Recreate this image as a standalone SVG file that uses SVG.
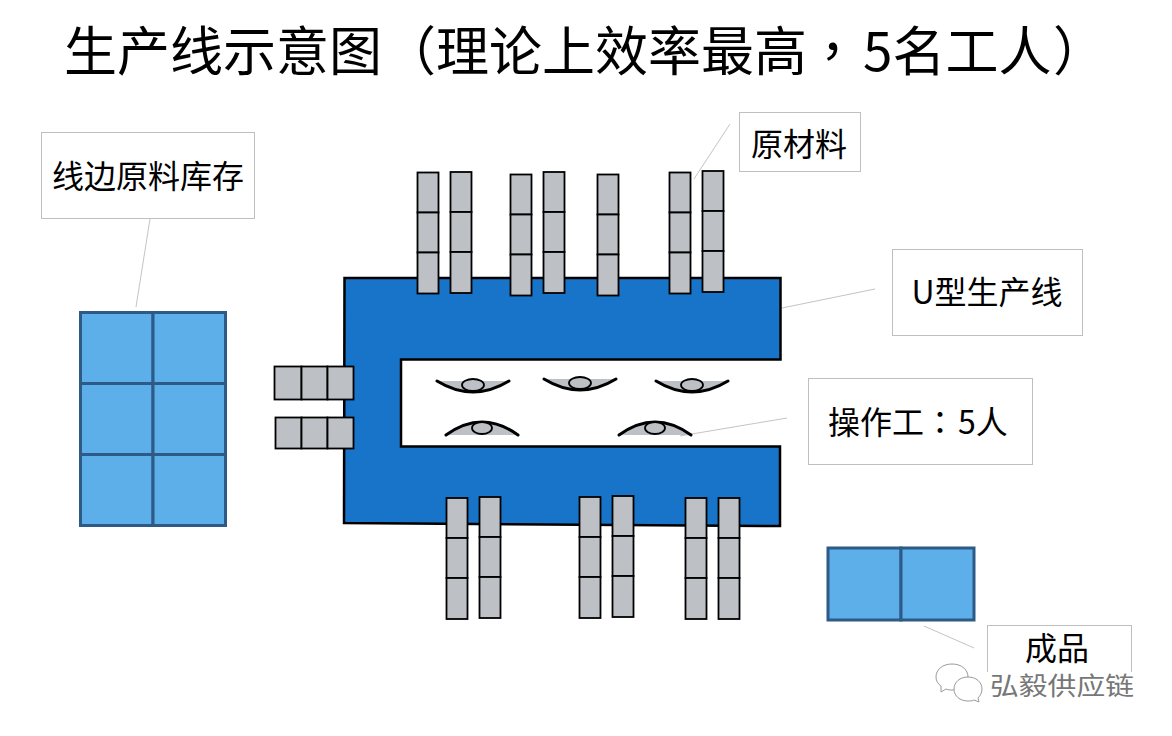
<svg xmlns="http://www.w3.org/2000/svg" width="1172" height="736" viewBox="0 0 1172 736">
<style>
text{font-family:"Noto Sans CJK SC","Noto Sans",sans-serif;fill:#000}
.p{font-family:"Noto Sans CJK TC","Noto Sans",sans-serif}
.t{font-size:53px}
.l{font-size:32px;text-anchor:middle}
.box{fill:#fff;stroke:#bfbfbf;stroke-width:1}
.lead{fill:none;stroke:#c4c4c4;stroke-width:1}
.m{fill:#bdc1c5;stroke:#000;stroke-width:1.8}
.s{fill:#5cafe8;stroke:#2d5a87;stroke-width:3}
.arc{fill:none;stroke:#000;stroke-width:3;stroke-linecap:round}
.seat{fill:#bdc1c5;stroke:none}
.head{fill:#bdc1c5;stroke:#000;stroke-width:1.8}
</style>
<defs>
<g id="col"><rect class="m" x="0" y="0" width="21" height="40"/><rect class="m" x="0" y="40" width="21" height="40"/><rect class="m" x="0" y="80" width="21" height="41"/></g>
<g id="wd"><path class="seat" d="M-36 0H36Q18 11 0 11Q-18 11-36 0Z"/><path class="arc" d="M-36 0Q-18 11 0 11Q18 11 36 0"/><ellipse class="head" cx="0" cy="4" rx="11" ry="6"/></g>
<g id="wu"><path class="seat" d="M-36 10H36Q18-3 0-3Q-18-3-36 10Z"/><path class="arc" d="M-36 10Q-18-3 0-3Q18-3 36 10"/><ellipse class="head" cx="0" cy="3" rx="10" ry="6"/></g>
</defs>
<text id="title" class="t" y="71"><tspan x="64">生产线示意图</tspan><tspan class="p" x="383">（</tspan><tspan x="436">理论上效率最高</tspan><tspan class="p" x="806">，</tspan><tspan x="863">5名工人</tspan><tspan class="p" x="1053">）</tspan></text>
<g id="line"><path d="M344.500 278H780.500V359.500H401V446.500H780V526L344 523Z" fill="#1874c8" stroke="#000" stroke-width="2.500"/></g>
<g id="connectors">
<path class="lead" d="M150 219L136 307"/><path class="lead" d="M730 124L694 179"/><path class="lead" d="M875 289L782 308"/><path class="lead" d="M787 418L680 436"/><path class="lead" d="M924 626L974 648"/>
</g>
<g id="materials-top">
<use href="#col" x="417.500" y="172.500"/><use href="#col" x="450.500" y="172"/><use href="#col" x="510.500" y="174.500"/><use href="#col" x="543.500" y="172"/><use href="#col" x="597.500" y="174.500"/><use href="#col" x="669.500" y="172.500"/><use href="#col" x="702.500" y="171"/>
</g>
<g id="materials-bottom">
<use href="#col" x="446.500" y="498"/><use href="#col" x="479.500" y="497"/><use href="#col" x="579.500" y="497"/><use href="#col" x="612.500" y="496"/><use href="#col" x="685.500" y="498"/><use href="#col" x="718.500" y="498"/>
</g>
<g id="materials-left">
<rect class="m" x="274.500" y="366.500" width="27" height="33"/><rect class="m" x="301.500" y="366.500" width="26" height="33"/><rect class="m" x="327.500" y="366.500" width="26" height="33"/>
<rect class="m" x="275.500" y="417.500" width="26" height="31"/><rect class="m" x="301.500" y="417.500" width="26" height="31"/><rect class="m" x="327.500" y="417.500" width="26" height="31"/>
</g>
<g id="workers">
<use href="#wd" x="473" y="381"/><use href="#wd" x="580" y="379"/><use href="#wd" x="692" y="381"/><use href="#wu" x="482" y="425"/><use href="#wu" x="655" y="425"/>
</g>
<g id="stock-line">
<rect class="s" x="80.500" y="312.500" width="72.500" height="71"/><rect class="s" x="153" y="312.500" width="72.500" height="71"/><rect class="s" x="80.500" y="383.500" width="72.500" height="71"/><rect class="s" x="153" y="383.500" width="72.500" height="71"/><rect class="s" x="80.500" y="454.500" width="72.500" height="71"/><rect class="s" x="153" y="454.500" width="72.500" height="71"/>
</g>
<g id="stock-finished"><rect class="s" x="828" y="548" width="73" height="72"/><rect class="s" x="901" y="548" width="73" height="72"/></g>
<g id="label-stock"><rect class="box" x="41.500" y="132.500" width="213" height="86"/><text class="l" x="148" y="188">线边原料库存</text></g>
<g id="label-material"><rect class="box" x="739.500" y="112.500" width="121" height="59"/><text class="l" x="799" y="156">原材料</text></g>
<g id="label-uline"><rect class="box" x="892.500" y="249.500" width="190" height="86"/><text class="l" x="987" y="304">U型生产线</text></g>
<g id="label-worker"><rect class="box" x="808.500" y="378.500" width="224" height="86"/><text class="l" y="434"><tspan x="828" text-anchor="start">操作工</tspan><tspan class="p" x="924" text-anchor="start">：</tspan><tspan x="958" text-anchor="start">5人</tspan></text></g>
<g id="label-product"><rect class="box" x="987.500" y="625.500" width="144" height="60"/><text class="l" x="1057" y="660">成品</text></g>
<g id="watermark">
<rect x="930" y="672" width="210" height="36" fill="#fff"/>
<g fill="#fff" stroke="#9a9a9a" stroke-width="1"><path d="M952 664C942 664 936 670 936 677C936 681 938 684 941 686L941 692L946 689C948 690 950 690 953 690C963 690 968 684 968 677C968 670 962 664 952 664Z"/><path d="M968 677C960 677 954 682 954 689C954 696 960 701 968 701C970 701 972 701 974 700L979 702L978 698C980 696 982 693 982 689C982 682 976 677 968 677Z"/></g>
<text x="990" y="695" font-size="25" style="fill:#777" textLength="144" lengthAdjust="spacingAndGlyphs">弘毅供应链</text>
</g>
</svg>
